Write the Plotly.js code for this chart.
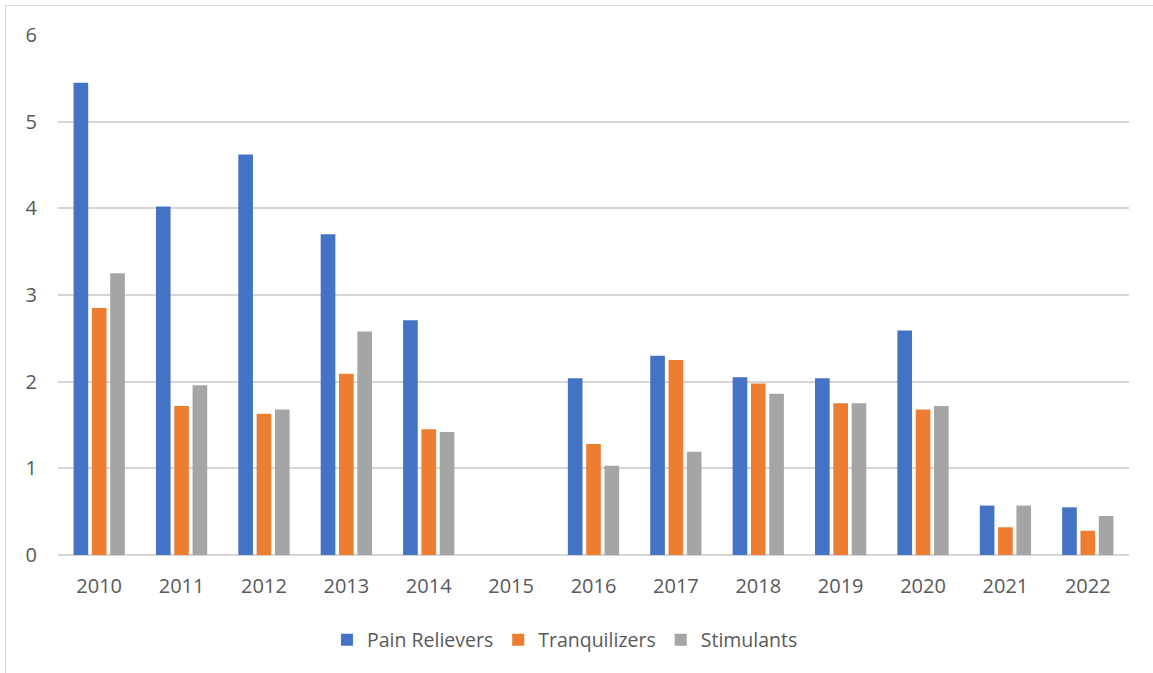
<!DOCTYPE html>
<html>
<head>
<meta charset="utf-8">
<script src="https://cdn.plot.ly/plotly-3.0.1.min.js"></script>
<style>
  html, body { margin: 0; padding: 0; background: #fff; }
  #frame { position: absolute; left: 5px; top: 5px; width: 1160px; height: 680px; border: 1.5px solid #d9d9d9; box-sizing: border-box; }
  #chart { position: absolute; left: 0; top: 0; width: 1153px; height: 673px; }
</style>
</head>
<body>
<div id="frame"></div>
<div id="chart"></div>
<script>
const years = ["2010","2011","2012","2013","2014","2015","2016","2017","2018","2019","2020","2021","2022"];
const painRelievers = [5.45, 4.02, 4.62, 3.70, 2.71, null, 2.04, 2.30, 2.05, 2.04, 2.59, 0.57, 0.55];
const tranquilizers = [2.85, 1.72, 1.63, 2.09, 1.45, null, 1.28, 2.25, 1.98, 1.75, 1.68, 0.32, 0.28];
const stimulants    = [3.25, 1.96, 1.68, 2.58, 1.42, null, 1.03, 1.19, 1.86, 1.75, 1.72, 0.57, 0.45];
const seriesNames = ["Pain Relievers", "Tranquilizers", "Stimulants"];
const colors = ["#4472C4", "#ED7D31", "#A5A5A5"];

const allSeries = [painRelievers, tranquilizers, stimulants];
const traces = allSeries.map((vals, i) => ({
  type: "bar",
  name: seriesNames[i],
  x: years,
  y: vals,
  marker: { color: colors[i], line: { width: 0 } },
  hoverinfo: "x+y+name"
}));

const font = { family: "'Open Sans', 'Noto Sans', sans-serif", color: "#595959" };

const layout = {
  width: 1153,
  height: 673,
  paper_bgcolor: "rgba(0,0,0,0)",
  plot_bgcolor: "rgba(0,0,0,0)",
  margin: { l: 58, r: 24, t: 35, b: 118 },
  barmode: "group",
  bargap: 0.333,
  bargroupgap: 0.2,
  font: Object.assign({ size: 20 }, font),
  xaxis: {
    type: "category",
    showgrid: false,
    showline: false,
    zeroline: false,
    ticks: "",
    tickfont: Object.assign({ size: 20 }, font),
    ticklabelstandoff: 17
  },
  yaxis: {
    range: [0, 6],
    dtick: 1,
    showgrid: true,
    gridcolor: "#d6d6d6",
    gridwidth: 1.5,
    zeroline: true,
    zerolinecolor: "#d6d6d6",
    zerolinewidth: 1.5,
    showline: false,
    ticks: "",
    tickfont: Object.assign({ size: 20 }, font),
    ticklabelstandoff: 20
  },
  showlegend: true,
  legend: {
    orientation: "h",
    x: 0.49,
    xanchor: "center",
    xref: "container",
    y: 0.049,
    yanchor: "middle",
    yref: "container",
    font: Object.assign({ size: 19.5 }, font),
    traceorder: "normal",
    itemclick: false
  }
};

Plotly.newPlot("chart", traces, layout, { displayModeBar: false, responsive: false });
</script>
</body>
</html>
